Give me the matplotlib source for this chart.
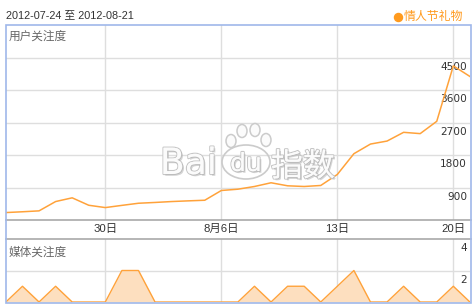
import matplotlib
matplotlib.use("Agg")
import matplotlib.pyplot as plt
import matplotlib.patheffects as pe
from matplotlib.patches import Rectangle, Ellipse
from matplotlib.lines import Line2D
from matplotlib.transforms import blended_transform_factory, offset_copy

# ---- data ----
days = list(range(29))  # 2012-07-24 .. 2012-08-21
user_attention = [206, 228, 253, 511, 614, 408, 344, 405, 464, 486, 511, 530, 547,
                  817, 853, 928, 1031, 947, 928, 956, 1261, 1836, 2103, 2186, 2428,
                  2392, 2733, 4269, 3975]
media_attention = [0, 1, 0, 1, 0, 0, 0, 2, 2, 0, 0, 0, 0, 0, 0, 1, 0, 1, 1, 0,
                   1, 2, 0, 0, 1, 0, 0, 1, 0]
xtick_pos = [6, 13, 20, 27]
xtick_labels = ["30日", "8月6日", "13日", "20日"]
ytick_main = [900, 1800, 2700, 3600, 4500]
ytick_media = [2, 4]
title_text = "2012-07-24 至 2012-08-21"
series_name = "情人节礼物"
main_label = "用户关注度"
media_label = "媒体关注度"

W, H = 475, 307
fig = plt.figure(figsize=(W / 100, H / 100), dpi=100)
fig.patch.set_facecolor("white")

CJK = ["Liberation Sans", "Noto Sans CJK SC", "DejaVu Sans"]
LINE = "#ffa23a"
FILL = "#fddfbf"
GRID = "#dedede"
AXLINE = "#a9a9a9"
BORDER = "#9fb8ea"

def fx(px):
    return px / W

def fy(py):
    return 1 - py / H

x0, x1 = 5.9, 469.9

# ---- main axes ----
ax = fig.add_axes([fx(x0), fy(220), fx(x1 - x0), (220 - 25) / H])
ax.set_xlim(0, 28)
ax.set_ylim(0, 5400)
for s in ax.spines.values():
    s.set_visible(False)
ax.set_xticks(xtick_pos)
ax.set_xticklabels(xtick_labels, fontsize=8.2, family=CJK, color="#333333")
ax.tick_params(axis="x", length=0, pad=3)
ax.set_yticks(ytick_main)
ax.tick_params(axis="y", length=0, labelleft=False)
ax.grid(True, color=GRID, lw=1)
ax.set_axisbelow(True)
ax.plot(days, user_attention, color=LINE, lw=1.1, zorder=5)
tr = offset_copy(blended_transform_factory(ax.transAxes, ax.transData),
                 fig=fig, x=-2, y=-3, units="points")
for v in ytick_main:
    ax.text(1.0, v, str(v), transform=tr, ha="right", va="top",
            fontsize=7.6, family="DejaVu Sans", color="#333333")
ax.text(0.005, 0.970, main_label, transform=ax.transAxes, ha="left", va="top",
        fontsize=8.4, family=CJK, color="#666666")

# ---- watermark ----
wm_fx = [pe.withStroke(linewidth=1.6, foreground="#c6c6c6"),
         pe.SimplePatchShadow(offset=(1.3, -1.3), shadow_rgbFace="#b5b5b5", alpha=0.55),
         pe.Normal()]
fig.text(fx(160), fy(174), "Bai", fontsize=26, family="DejaVu Sans",
         color="#fbfbfb", ha="left", va="baseline", path_effects=wm_fx, zorder=1)
fig.text(fx(246), fy(171), "du", fontsize=18, family="DejaVu Sans",
         color="#fbfbfb", ha="center", va="baseline", path_effects=wm_fx, zorder=1)
fig.text(fx(271), fy(176), "指数", fontsize=23, family=["Noto Sans CJK SC"],
         color="#fbfbfb", ha="left", va="baseline", path_effects=wm_fx, zorder=1)
paw = Ellipse((fx(246), fy(162)), fx(48), 34 / H, transform=fig.transFigure,
              facecolor="none", edgecolor="#cbcbcb", lw=1.2, zorder=0.5)
fig.patches.append(paw)
for cx, cy in [(231, 141), (242, 131), (255, 130), (266, 140)]:
    e = Ellipse((fx(cx), fy(cy)), fx(10), 13 / H, transform=fig.transFigure,
                facecolor="#fbfbfb", edgecolor="#cbcbcb", lw=1.1, zorder=0.5)
    fig.patches.append(e)

# ---- media axes ----
bx = fig.add_axes([fx(x0), fy(302), fx(x1 - x0), (302 - 239) / H])
bx.set_xlim(0, 28)
bx.set_ylim(0, 4)
for s in bx.spines.values():
    s.set_visible(False)
bx.set_xticks(xtick_pos)
bx.set_yticks([2])
bx.tick_params(length=0, labelleft=False, labelbottom=False)
bx.grid(True, color=GRID, lw=1)
bx.set_axisbelow(True)
bx.fill_between(days, media_attention, 0, color=FILL, lw=0, zorder=3)
bx.plot(days, media_attention, color=LINE, lw=1.0, zorder=4)
trb = offset_copy(blended_transform_factory(bx.transAxes, bx.transData),
                  fig=fig, x=-2, y=-3, units="points")
for v in ytick_media:
    bx.text(1.0, v, str(v), transform=trb, ha="right", va="top",
            fontsize=7.6, family="DejaVu Sans", color="#333333")
bx.text(0.005, 0.88, media_label, transform=bx.transAxes, ha="left", va="top",
        fontsize=8.4, family=CJK, color="#666666")

# ---- frame lines ----
for yy in (220, 239):
    fig.add_artist(Line2D([fx(5.5), fx(470.5)], [fy(yy), fy(yy)],
                          transform=fig.transFigure, color=AXLINE, lw=1.2))
fig.patches.append(Rectangle((fx(5.5), fy(302.5)), fx(465), 277.5 / H,
                             transform=fig.transFigure, fill=False,
                             edgecolor=BORDER, lw=1.2, zorder=10))

# ---- header ----
fig.text(fx(6), fy(15.5), title_text, fontsize=7.8, family=CJK,
         color="#333333", ha="left", va="center")
fig.add_artist(Line2D([fx(398)], [fy(17)], transform=fig.transFigure,
                      marker="o", markersize=5.8, color="#ff9a1e", lw=0))
fig.text(fx(404), fy(17), series_name, fontsize=8.6, family=CJK,
         color="#ff9a1e", ha="left", va="center")

fig.savefig("out.png", dpi=100)
